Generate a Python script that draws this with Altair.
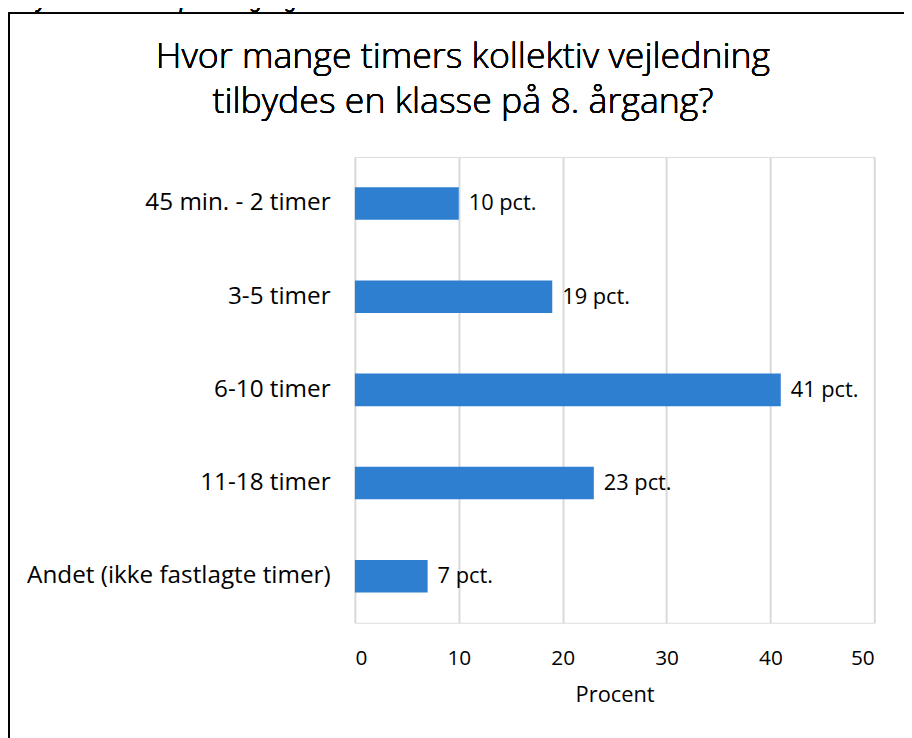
import altair as alt
import pandas as pd

categories = ["45 min. - 2 timer", "3-5 timer", "6-10 timer", "11-18 timer", "Andet (ikke fastlagte timer)"]
values = [10, 19, 41, 23, 7]
labels = ["10 pct.", "19 pct.", "41 pct.", "23 pct.", "7 pct."]
title_lines = ["Hvor mange timers kollektiv vejledning", "tilbydes en klasse på 8. årgang?"]
cut_caption = "tilbydes en klasse på 8. årgang?"

df = pd.DataFrame({"kategori": categories, "procent": values, "label": labels})

FONT = "Open Sans"
BAR = "#2E7FD0"

x = alt.X("procent:Q", scale=alt.Scale(domain=[0, 50]),
          axis=alt.Axis(values=[0, 10, 20, 30, 40, 50], title="Procent", grid=True,
                        gridColor="#D9D9D9", gridWidth=2, domain=False, ticks=False,
                        labelPadding=25, labelFontSize=21, labelColor="#000000",
                        labelFont=FONT, titleFont=FONT, titleFontSize=22,
                        titleFontWeight="normal", titleColor="#000000", titlePadding=16))
y = alt.Y("kategori:N", sort=categories, scale=alt.Scale(paddingInner=0.65, paddingOuter=0.325),
          axis=alt.Axis(title=None, domain=False, ticks=False, grid=False, labelPadding=25,
                        labelFontSize=24.5, labelColor="#000000", labelFont=FONT,
                        labelLimit=400))

bars = alt.Chart(df).mark_bar(color=BAR).encode(x=x, y=y)
text = alt.Chart(df).mark_text(align="left", dx=10, fontSize=22, font=FONT, color="#000000",
                               fontWeight="normal").encode(
    x="procent:Q", y=alt.Y("kategori:N", sort=categories), text="label:N")

frame = alt.Chart(df).mark_rect(fill=None, stroke="#000000", strokeWidth=1.5).encode(
    x=alt.value(-349), x2=alt.value(1000), y=alt.value(-145), y2=alt.value(1000))

top_text = alt.Chart(df).mark_text(align="left", baseline="alphabetic", fontSize=21,
                                   fontStyle="italic", font="Liberation Sans", color="#000000").encode(
    x=alt.value(-348), y=alt.value(-150), text=alt.value(cut_caption))

title1 = alt.Chart(df).mark_text(align="center", baseline="middle", fontSize=36, font=FONT,
                                 fontWeight=300, color="#000000").encode(
    x=alt.value(109), y=alt.value(-101), text=alt.value(title_lines[0]))
title2 = alt.Chart(df).mark_text(align="center", baseline="middle", fontSize=36, font=FONT,
                                 fontWeight=300, color="#000000").encode(
    x=alt.value(109), y=alt.value(-55), text=alt.value(title_lines[1]))

chart = alt.layer(frame, bars, text, top_text, title1, title2).properties(
    width=524, height=470,
    padding={"left": 350, "top": 147, "right": 30, "bottom": 113},
    autosize=alt.AutoSizeParams(type="none"),
).configure_view(stroke=None).configure(background="#FFFFFF")

chart.save("out.html", embed_options={"renderer": "svg", "actions": False})
